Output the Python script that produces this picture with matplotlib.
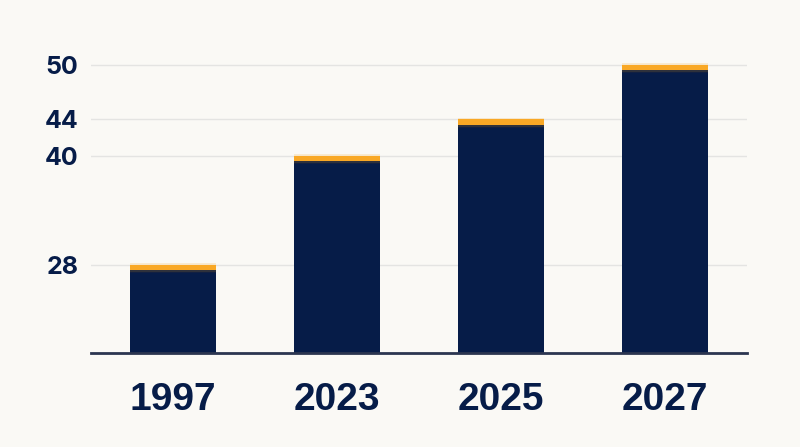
import matplotlib
matplotlib.use("Agg")
import matplotlib.pyplot as plt
from matplotlib import font_manager
import numpy as np

# data
years = ["1997", "2023", "2025", "2027"]
values = [28, 40, 44, 50]
yticks = [28, 40, 44, 50]

navy = "#061c48"
orange = "#f9a825"
bg = "#faf9f5"

names = {f.name for f in font_manager.fontManager.ttflist}
yfont = "Inter" if "Inter" in names else "DejaVu Sans"

fig = plt.figure(figsize=(8, 4.47), dpi=100, facecolor=bg)
ax = fig.add_axes([0.11375, 0.2103, 0.82, 0.685])
ax.set_facecolor(bg)

x = np.arange(len(years))
w = 0.52
ax.bar(x, values, width=w, color=navy, zorder=3)

# orange cap on top of each bar, with a soft glow
cap = 0.6
vals = np.array(values, dtype=float)
ax.bar(x, cap + 0.4, bottom=vals - cap - 0.2, width=w + 0.01, color=orange,
       alpha=0.18, linewidth=0, zorder=4)
ax.bar(x, cap, bottom=vals - cap, width=w, color=orange, linewidth=0, zorder=5)
ax.bar(x, 0.3, bottom=vals - cap - 0.3, width=w, color="#2a2a35", alpha=0.35,
       linewidth=0, zorder=5)

ax.set_xlim(-0.5, 3.5)
ax.set_ylim(18.27, 52)
ax.set_yticks(yticks)
ax.set_xticks(x)
ax.set_xticklabels(years)
ax.yaxis.grid(True, color="#e4e4e2", linewidth=1)
ax.set_axisbelow(True)

for s in ["top", "right", "left"]:
    ax.spines[s].set_visible(False)
ax.spines["bottom"].set_color("#2b3550")
ax.spines["bottom"].set_linewidth(2)
ax.spines["bottom"].set_zorder(6)

ax.tick_params(axis="both", length=0)
ax.tick_params(axis="y", pad=9)
ax.tick_params(axis="x", pad=21)
for lab in ax.get_yticklabels():
    lab.set_fontfamily([yfont, "DejaVu Sans"])
    lab.set_fontweight("bold")
    lab.set_fontsize(18)
    lab.set_color(navy)
for lab in ax.get_xticklabels():
    lab.set_fontfamily(["Liberation Sans", "DejaVu Sans"])
    lab.set_fontweight("bold")
    lab.set_fontsize(28)
    lab.set_color(navy)

fig.savefig("out.png", dpi=100, facecolor=bg)
